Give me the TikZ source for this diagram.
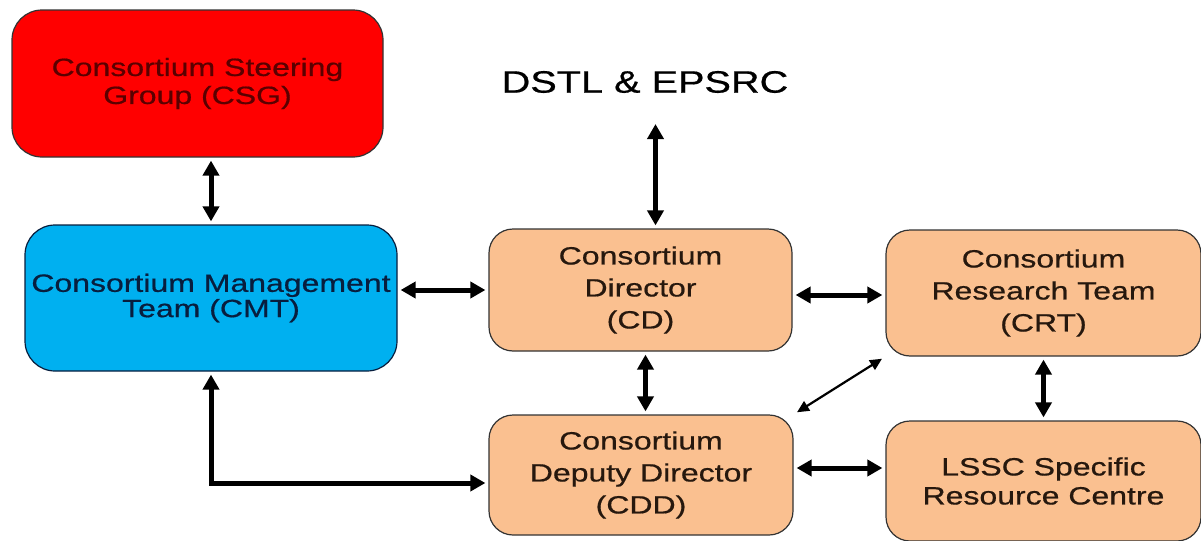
\documentclass[tikz,border=0pt]{standalone}
\usepackage{fontspec}
\setmainfont[FakeStretch=1.28,FakeBold=0.6]{Liberation Sans}
\usetikzlibrary{arrows.meta}
\definecolor{csgred}{RGB}{255,0,0}
\definecolor{csgtext}{RGB}{90,0,0}
\definecolor{cmtblue}{RGB}{0,176,240}
\definecolor{cmttext}{RGB}{8,30,62}
\definecolor{peach}{RGB}{250,192,144}
\definecolor{peachtext}{RGB}{38,24,14}
\begin{document}
\begin{tikzpicture}[x=.5pt,y=-.5pt,
  box/.style={draw=black!80,line width=.6pt,rounded corners=12pt,align=center,inner sep=0pt,text=peachtext,fill=peach,font=\fontsize{12.5}{16}\selectfont},
  dbl/.style={line width=2.5pt,{Triangle[length=7.5pt,width=8pt]}-{Triangle[length=7.5pt,width=8pt]},shorten <=1.5pt,shorten >=1.5pt},
  slim/.style={line width=1.1pt,{Triangle[length=6pt,width=5.5pt]}-{Triangle[length=6pt,width=5.5pt]},shorten <=2pt,shorten >=2pt}]
\useasboundingbox (0,0) rectangle (1201,541);
% boxes
\node[box,fill=csgred,text=csgtext,rounded corners=15pt,minimum width=185.5pt,minimum height=73.5pt,font=\fontsize{12.5}{14}\selectfont] (csg) at (197.5,83.5) {Consortium Steering\\Group (CSG)};
\node[box,fill=cmtblue,text=cmttext,draw=cmttext,rounded corners=15pt,minimum width=186pt,minimum height=73pt,font=\fontsize{12.5}{11.5}\selectfont] (cmt) at (211,298) {\raisebox{-4pt}{\parbox{180pt}{\centering Consortium Management\\Team (CMT)}}};
\node[box,minimum width=151.5pt,minimum height=61pt] (cd) at (640.5,290) {Consortium\\Director\\(CD)};
\node[box,minimum width=157.5pt,minimum height=63pt] (crt) at (1043.5,293) {Consortium\\Research Team\\(CRT)};
\node[box,minimum width=152pt,minimum height=60pt] (cdd) at (641,475) {Consortium\\Deputy Director\\(CDD)};
\node[box,minimum width=157.5pt,minimum height=60pt,font=\fontsize{12.5}{14.5}\selectfont] (lssc) at (1043.5,481) {LSSC Specific\\Resource Centre};
\node[font=\fontsize{15.5}{18}\selectfont] (dstl) at (645,82) {DSTL \& EPSRC};
% links
\draw[dbl] (csg.south -| cmt.north) -- (cmt.north);
\draw[dbl] (cmt.east |- cd.west) -- (cd.west);
\draw[dbl] ([yshift=-2.5pt]cd.east) -- ([yshift=-2.5pt]cd.east -| crt.west);
\draw[dbl,shorten >=12pt] ([xshift=7.5pt]cd.north) -- ([xshift=7.5pt]cd.north |- dstl.south);
\draw[dbl] ([xshift=2.5pt]cd.south) -- ([xshift=2.5pt]cd.south |- cdd.north);
\draw[dbl] (crt.south) -- (crt.south |- lssc.north);
\draw[dbl] ([yshift=3.5pt]cdd.east) -- ([yshift=3.5pt]cdd.east -| lssc.west);
\draw[slim] (cdd.north east) -- (crt.south west);
\draw[dbl] (cmt.south) |- ([yshift=-4pt]cdd.west);
\end{tikzpicture}
\end{document}
